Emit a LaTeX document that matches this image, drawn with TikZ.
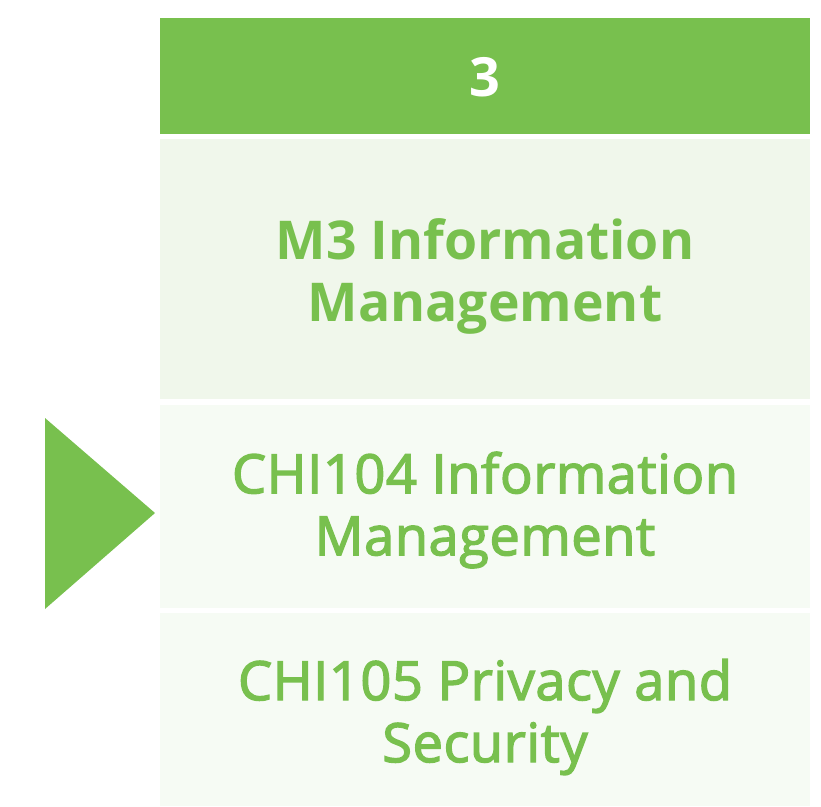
\documentclass[tikz,border=0pt]{standalone}
\usepackage{fontspec}
\setmainfont{Open Sans}
\newfontfamily\semibold[FakeBold=2.6,LetterSpace=1.2]{Open Sans}
\definecolor{headgreen}{HTML}{78C04E}
\definecolor{paleA}{HTML}{F0F7EB}
\definecolor{paleB}{HTML}{F6FBF4}
\begin{document}
\begin{tikzpicture}[x=1pt,y=-1pt,
  label/.style={text=headgreen,align=center,font=\semibold\fontsize{54}{62}\selectfont},
  boldlabel/.style={text=headgreen,align=center,font=\fontsize{53.5}{62}\selectfont\bfseries}]
\useasboundingbox (0,0) rectangle (821,806);
% header and stacked rows
\fill[headgreen] (160,18) rectangle (810,134);
\fill[paleA] (160,139) rectangle (810,399);
\fill[paleB] (160,405) rectangle (810,608);
\fill[paleB] (160,613) rectangle (810,806);
\node[text=white,font=\fontsize{54}{62}\selectfont\bfseries] (head) at (485,77) {3};
\node[boldlabel] (m3) at (485,276) {M3 Information\\Management};
\node[label] (chi104) at (485,510) {CHI104 Information\\Management};
\node[label] (chi105) at (485,717) {CHI105 Privacy and\\Security};
% pointer
\fill[headgreen] (45,418) -- (155,513) -- (45,609) -- cycle;
\end{tikzpicture}
\end{document}
